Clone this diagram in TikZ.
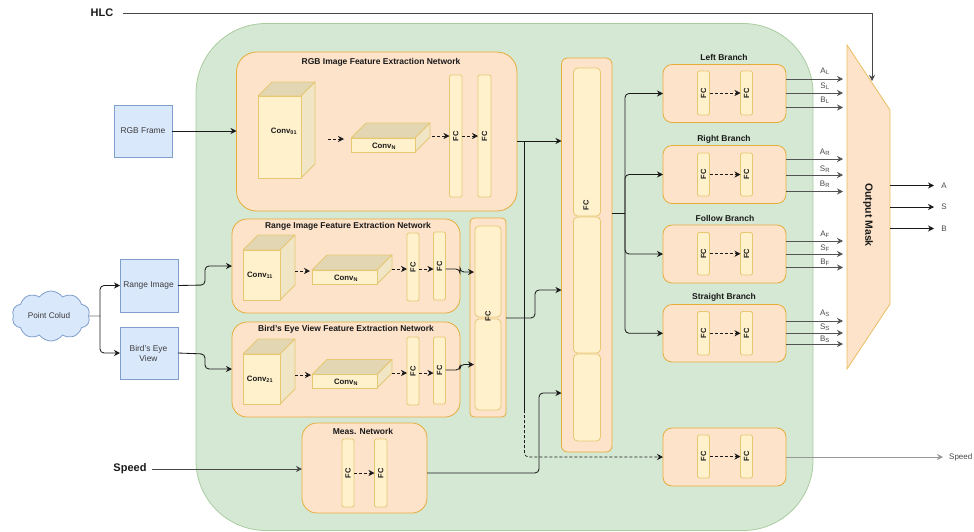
\documentclass[tikz,border=0pt]{standalone}
\usepackage{fontspec}
\setmainfont{Liberation Sans}
\usetikzlibrary{arrows.meta,shapes.symbols,calc}
\definecolor{grnF}{HTML}{D5E8D4}\definecolor{grnD}{HTML}{A9CC9F}
\definecolor{orgF}{HTML}{FDE3CA}\definecolor{orgD}{HTML}{E6AC3A}
\definecolor{yelF}{HTML}{FFF1CC}\definecolor{yelD}{HTML}{E6C873}
\definecolor{bluF}{HTML}{DAE8FC}\definecolor{bluD}{HTML}{7E9FCB}
\definecolor{cubT}{HTML}{E3D6B2}\definecolor{cubS}{HTML}{F0E5C4}
\definecolor{ink}{HTML}{1A1A1A}
\tikzset{
 box/.style={inner sep=0pt,outer sep=0pt,line width=.8pt},
 greenbox/.style={box,draw=grnD,fill=grnF,rounded corners=70pt},
 netbox/.style={box,draw=orgD,fill=orgF,rounded corners=#1},
 netbox/.default=15pt,
 fcbar/.style={box,draw=yelD,fill=yelF,rounded corners=1.5pt},
 stackbar/.style={box,draw=yelD,fill=yelF,rounded corners=4pt},
 bluebox/.style={box,draw=bluD,fill=bluF},
 bluetext/.style={font=\fontsize{8.4}{10}\selectfont,text=ink!85,inner sep=0pt,align=center},
 title/.style={font=\bfseries\fontsize{8.5}{10}\selectfont,text=ink,inner sep=0pt},
 fclabel/.style={font=\bfseries\fontsize{7.5}{9}\selectfont,text=ink,rotate=90,inner sep=0pt},
 convlabel/.style={font=\bfseries\fontsize{7.8}{9}\selectfont,text=ink,inner sep=0pt},
 outlabel/.style={font=\fontsize{8}{9}\selectfont,text=ink!80,inner sep=0pt},
 biglabel/.style={font=\bfseries\fontsize{11}{12}\selectfont,text=ink,inner sep=0pt},
 conn/.style={draw=ink,line width=.85pt,rounded corners=4pt,-{Stealth[length=6pt,width=6pt]}},
 dotconn/.style={conn,densely dashed,line width=.7pt},
 plainline/.style={draw=ink,line width=.85pt,rounded corners=4pt},
}
\newcommand{\bx}[6]{\node[#2,minimum width={(#5-#3)*1pt},minimum height={(#6-#4)*1pt}] (#1) at ({(#3+#5)/2},{(#4+#6)/2}) {};}
\newcommand{\cuboid}[6]{%
 \fill[cubT,draw=yelD,line width=.8pt,line join=round] (#2,#3)--(#2+#6,#3-#6)--(#4+#6,#3-#6)--(#4,#3)--cycle;
 \fill[cubS,draw=yelD,line width=.8pt,line join=round] (#4,#3)--(#4+#6,#3-#6)--(#4+#6,#5-#6)--(#4,#5)--cycle;
 \bx{#1}{box,draw=yelD,fill=yelF}{#2}{#3}{#4}{#5}}
\newcommand{\fcb}[5]{\bx{#1}{fcbar}{#2}{#3}{#4}{#5}\node[fclabel] (#1t) at (#1) {FC};}
\begin{document}
\begin{tikzpicture}[x=1pt,y=-1pt]
\useasboundingbox (0,0) rectangle (974,531);
% main green panel
\bx{main}{greenbox}{196}{23.5}{813}{530.5}
% RGB network
\bx{rgb}{netbox=20pt}{236.5}{52}{517}{211}
\node[title] (rgbT) at (381,62) {RGB Image Feature Extraction Network};
\cuboid{c01}{258}{96}{301}{178}{14}
\node[convlabel] (c01t) at (284,131) {Conv\textsubscript{01}};
\cuboid{cN}{351}{138}{415}{152}{15}
\node[convlabel] (cNt) at (384,146) {Conv\textsubscript{N}};
\fcb{rf1}{449.5}{75}{462}{197}
\fcb{rf2}{478}{75}{491}{197}
\coordinate (ra) at (328,139);\coordinate (rb) at (344,139);
\draw[dotconn] (ra) -- (rb);
\coordinate (rc) at (432,136);
\draw[dotconn] (rc) -- (rc -| rf1.west);
\draw[dotconn] (rf1.east |- rc) -- (rf2.west |- rc);
% Range network
\bx{rng}{netbox}{232}{219}{460}{313}
\node[title] (rngT) at (348,226) {Range Image Feature Extraction Network};
\cuboid{c11}{243}{250}{280}{300}{15}
\node[convlabel] (c11t) at (260,275) {Conv\textsubscript{11}};
\cuboid{cN2}{312}{270}{377}{284}{15}
\node[convlabel] (cN2t) at (346,278) {Conv\textsubscript{N}};
\fcb{gf1}{407}{233}{419}{301}
\fcb{gf2}{433.5}{232}{445.5}{300}
\coordinate (ga) at (295,271);\coordinate (gb) at (310,271);
\draw[dotconn] (ga) -- (gb);
\coordinate (gc) at (392,269);
\draw[dotconn] (gc) -- (gc -| gf1.west);
\draw[dotconn] (gf1.east |- gc) -- (gf2.west |- gc);
% BEV network
\bx{bev}{netbox}{232}{322}{460}{417}
\node[title] (bevT) at (346,329) {Bird's Eye View Feature Extraction Network};
\cuboid{c21}{243}{354}{280}{404}{15}
\node[convlabel] (c21t) at (260,379) {Conv\textsubscript{21}};
\cuboid{cN3}{312}{374.5}{377}{388}{15}
\node[convlabel] (cN3t) at (346,382) {Conv\textsubscript{N}};
\fcb{bf1}{407}{337}{419}{405}
\fcb{bf2}{433.5}{337}{445.5}{404}
\coordinate (ba) at (295,375);\coordinate (bb) at (311,375);
\draw[dotconn] (ba) -- (bb);
\coordinate (bc) at (392,373);
\draw[dotconn] (bc) -- (bc -| bf1.west);
\draw[dotconn] (bf1.east |- bc) -- (bf2.west |- bc);
% concat FC
\bx{cat}{netbox=4pt}{470}{218}{506}{417}
\bx{cat1}{stackbar}{475}{226}{501}{317}
\bx{cat2}{stackbar}{475}{319}{501}{410}
\node[fclabel] (catT) at (488,316) {FC};
% Measurement network
\bx{meas}{netbox}{302}{423}{427}{513}
\node[title] (measT) at (363,431) {Meas. Network};
\fcb{mf1}{342}{439}{354}{507}
\fcb{mf2}{374.5}{439}{387}{507}
\draw[dotconn] (mf1) -- (mf2);
% Big FC stack
\bx{stack}{netbox=6pt}{561.5}{58}{612}{452}
\bx{st1}{stackbar}{573.5}{68}{600.5}{216}
\bx{st2}{stackbar}{573.5}{217}{600.5}{353}
\bx{st3}{stackbar}{573.5}{354}{600.5}{441}
\node[fclabel] (stT) at (586,205) {FC};
% Branches
\bx{left}{netbox=9pt}{663}{64.5}{786}{122.5}
\node[title] (leftT) at (724,57) {Left Branch};
\fcb{lf1}{697.5}{71}{709.5}{115}
\fcb{lf2}{740.5}{71}{752.5}{115}
\draw[dotconn] (lf1) -- (lf2);
\bx{right}{netbox=9pt}{663}{145.5}{786}{203.5}
\node[title] (rightT) at (724,139) {Right Branch};
\fcb{hf1}{697.5}{153}{709.5}{196}
\fcb{hf2}{740.5}{153}{752.5}{196}
\draw[dotconn] (hf1) -- (hf2);
\bx{follow}{netbox=9pt}{663}{225}{786}{283}
\node[title] (followT) at (725,218) {Follow Branch};
\fcb{ff1}{697.5}{232.5}{709.5}{275}
\fcb{ff2}{740.5}{232.5}{752.5}{275}
\draw[dotconn] (ff1) -- (ff2);
\bx{straight}{netbox=9pt}{663}{304.5}{786}{362}
\node[title] (straightT) at (724,297) {Straight Branch};
\fcb{sf1}{697.5}{311.5}{709.5}{355}
\fcb{sf2}{740.5}{311.5}{752.5}{355}
\draw[dotconn] (sf1) -- (sf2);
\bx{spd}{netbox=9pt}{663}{428}{786}{486}
\fcb{pf1}{697.5}{435}{709.5}{478}
\fcb{pf2}{740.5}{435}{752.5}{478}
\draw[dotconn] (pf1) -- (pf2);
% Output mask
\coordinate (ma) at (847,45);\coordinate (mb) at (890,110);\coordinate (mc) at (890,304);\coordinate (md) at (847,369);
\fill[orgF,draw=orgD!80,line width=.8pt] (ma)--(mb)--(mc)--(md)--cycle;
\node[biglabel,font=\bfseries\fontsize{10.5}{12}\selectfont,rotate=-90] (mask) at (868,215) {Output Mask};
% Inputs
\bx{rgbf}{bluebox}{114}{105}{172}{157}
\node[bluetext] (rgbfT) at (rgbf) {RGB Frame};
\bx{rngf}{bluebox}{120}{259}{178}{312}
\node[bluetext] (rngfT) at (148.5,285) {Range Image};
\bx{bevf}{bluebox}{120}{327}{178}{379}
\node[bluetext] (bevfT) at (148.5,353) {Bird's Eye\\View};
\node[cloud,cloud puffs=10,cloud puff arc=110,aspect=1.6,draw=bluD,fill=bluF,line width=.8pt,inner sep=0pt,outer sep=0pt,minimum width=78pt,minimum height=50pt] (cld) at (51,316) {};
\node[font=\fontsize{8.2}{10}\selectfont,text=ink!85,inner sep=0pt] (cldT) at (49,316) {Point Colud};
\node[biglabel] (hlc) at (102,13) {HLC};
\node[biglabel] (spdT) at (130,469) {Speed};
% Connectors
\coordinate (hlcS) at (123,13);\coordinate (hlcE) at (872,81);
\draw[conn,draw=ink!80,rounded corners=0pt] (hlcS) -| (hlcE);
\coordinate (spdS) at (152,469);
\draw[conn,draw=ink!80] (spdS) -- (spdS -| meas.west);
\draw[conn] (rgbf.east) -- (rgbf.east -| rgb.west);
\coordinate (cl) at (100,316);
\draw[plainline,draw=ink!60] (cld.east) -- (cl);
\draw[conn] (cl) |- (rngf.west);
\draw[conn] (cl) |- (bevf.west);
\coordinate (rg1) at (205,285);\coordinate (rg2) at (205,266);\coordinate (rg3) at (232,266);
\draw[conn] (rngf.east) -- (rg1) -- (rg2) -- (rg3);
\coordinate (bv1) at (205,354);\coordinate (bv2) at (205,369);\coordinate (bv3) at (232,369);
\draw[conn] (bevf.east) -- (bv1) -- (bv2) -- (bv3);
\coordinate (ro1) at (460,269);\coordinate (ro2) at (460,272);\coordinate (ro3) at (474,272);
\draw[conn] (gf2.east |- ro1) -- (ro1) -- (ro2) -- (ro3);
\coordinate (bo1) at (460,370);\coordinate (bo2) at (460,364.5);\coordinate (bo3) at (474,364.5);
\draw[conn] (bf2.east |- bo1) -- (bo1) -- (bo2) -- (bo3);
\coordinate (rgbO) at (517,141);\coordinate (jn) at (524.5,141);\coordinate (jd) at (524.5,410);
\draw[conn] (rgbO) -- (rgbO -| stack.west);
\draw[plainline] (jn) -- (jd);
\draw[dotconn] (jd) |- (spd.west);
\coordinate (cato) at (506,318);\coordinate (cat1) at (535,318);\coordinate (cat2) at (535,290);
\draw[conn] (cato) -- (cat1) -- (cat2) -- (cat2 -| stack.west);
\coordinate (mo) at (427,473);\coordinate (mo1) at (539,473);\coordinate (mo2) at (539,393);
\draw[conn] (mo) -- (mo1) -- (mo2) -- (mo2 -| stack.west);
\coordinate (bus) at (625,213);
\draw[plainline] (bus -| stack.east) -- (bus);
\draw[conn] (bus) |- (left.west);
\draw[conn] (bus) |- (right.west);
\draw[conn] (bus) |- (follow.west);
\draw[conn] (bus) |- (straight.west);
% Branch outputs
\foreach \n/\s/\y/\ly/\t in {a1/L/79/71/A,a2/L/93/86/S,a3/L/107.5/100/B,
 b1/R/159/152/A,b2/R/175/169/S,b3/R/191.5/184/B,
 c1/F/241/234/A,c2/F/254/248/S,c3/F/267.5/262/B,
 d1/S/321/313/A,d2/S/333/327/S,d3/S/344/339/B}{
 \coordinate (\n s) at (786,\y);\coordinate (\n e) at (843,\y);
 \draw[conn,draw=ink!75] (\n s) -- (\n e);
 \node[outlabel] (\n l) at (825,\ly) {\t\textsubscript{\s}};
}
\foreach \n/\t/\y in {oa/A/185.5,os/S/207,ob/B/228.5}{
 \coordinate (\n s) at (890,\y);\coordinate (\n e) at (934,\y);
 \draw[conn] (\n s) -- (\n e);
 \node[outlabel] (\n l) at (944,\y) {\t};
}
\node[outlabel,anchor=west] (spdO) at (949,457) {Speed};
\coordinate (spdE) at (943,457);
\draw[conn,draw=ink!45] (spd.east |- spdO) -- (spdE);
\end{tikzpicture}
\end{document}
